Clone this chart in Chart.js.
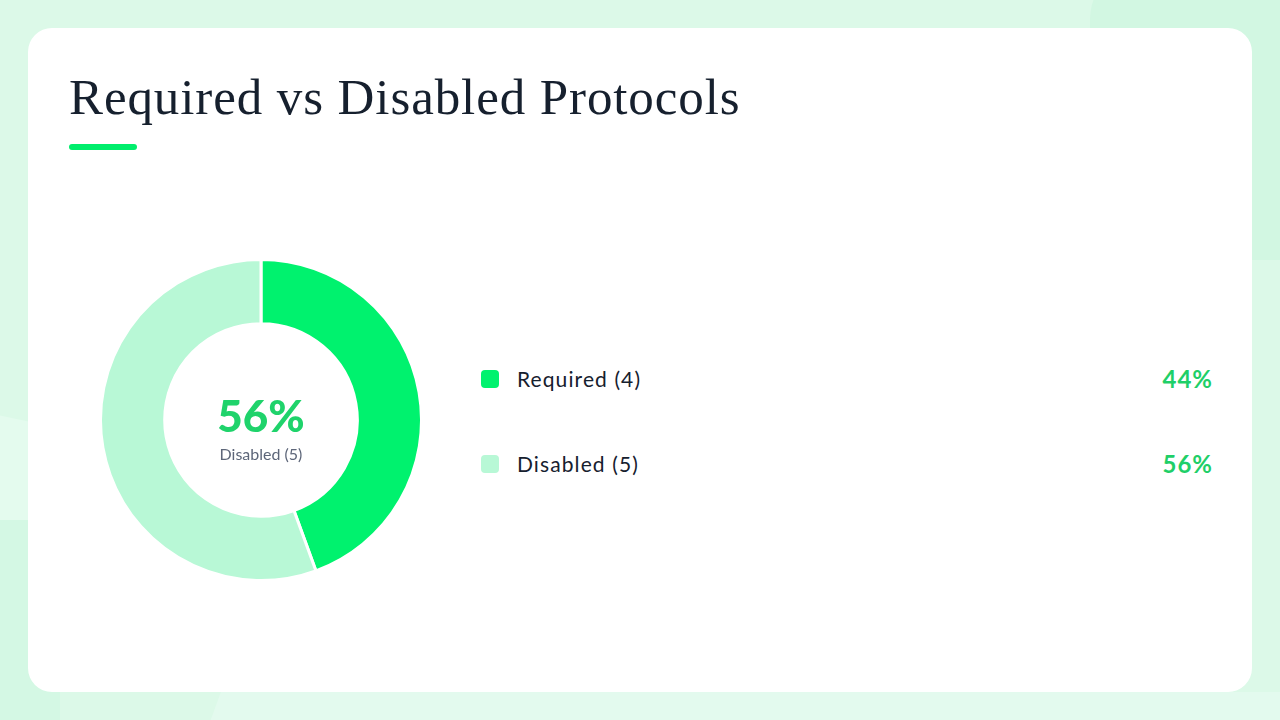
<!DOCTYPE html>
<html>
<head>
<meta charset="utf-8">
<script src="https://cdn.jsdelivr.net/npm/chart.js@4/dist/chart.umd.min.js"></script>
<style>
  html, body { margin: 0; padding: 0; }
  body {
    width: 1280px; height: 720px; overflow: hidden; position: relative;
    background: #dcf9e8;
    font-family: "Lato", "Noto Sans", sans-serif;
  }
  .bg1 { position: absolute; left: 1090px; top: -40px; width: 400px; height: 300px; background: #d2f7e2; border-radius: 60px 0 0 0; }
  .bg2 { position: absolute; left: -60px; top: 420px; width: 120px; height: 400px; background: #e4fbee; transform: rotate(12deg); }
  .bg3 { position: absolute; left: 0; top: 520px; width: 60px; height: 200px; background: #d4f8e4; }
  .bg4 { position: absolute; left: 210px; top: 692px; width: 1100px; height: 60px; background: #e3faee; transform: skewX(-20deg); }
  .card {
    position: absolute; left: 28px; top: 28px; width: 1224px; height: 664px;
    background: #ffffff; border-radius: 24px;
  }
  .title {
    position: absolute; left: 69px; top: 67px; margin: 0;
    font-family: "Liberation Serif", "DejaVu Serif", serif;
    font-weight: normal; font-size: 51px; letter-spacing: 0.9px; color: #16202e; white-space: nowrap;
    line-height: 1.2;
  }
  .accent {
    position: absolute; left: 69px; top: 144px; width: 68px; height: 6px;
    background: #00ee6c; border-radius: 3px;
  }
  .chartbox { position: absolute; left: 99px; top: 258px; width: 324px; height: 324px; }
  .center {
    position: absolute; left: 161px; top: 391px; width: 200px; text-align: center;
    pointer-events: none;
  }
  .center .pct { font-size: 44px; font-weight: 900; color: #1fd36b; line-height: 48px; }
  .center .lbl { font-size: 16px; line-height: 19px; color: #5d6679; margin-top: 5px; }
  .legend { position: absolute; left: 481px; top: 364px; width: 732px; }
  .row { position: relative; height: 30px; margin-bottom: 55px; }
  .sw { position: absolute; left: 0; top: 6px; width: 18px; height: 18px; border-radius: 4px; }
  .name { position: absolute; left: 36px; top: 2px; font-size: 21px; letter-spacing: 1.1px; color: #16202e; }
  .val { position: absolute; right: 0; top: 0px; font-size: 24px; letter-spacing: 1px; font-weight: bold; color: #1fcf68; }
</style>
</head>
<body>
<div class="bg1"></div>
<div class="bg2"></div>
<div class="bg3"></div>
<div class="bg4"></div>
<div class="card"></div>
<h1 class="title">Required vs Disabled Protocols</h1>
<div class="accent"></div>
<div class="chartbox"><canvas id="c"></canvas></div>
<div class="center"><div class="pct" id="cpct"></div><div class="lbl" id="clbl"></div></div>
<div class="legend" id="legend"></div>
<script>
const categories = ["Required", "Disabled"];
const values = [4, 5];
const colors = ["#00f26e", "#b8f8d6"];

const total = values.reduce((a, b) => a + b, 0);
const pct = values.map(v => Math.round(v / total * 100));
const labels = categories.map((c, i) => c + " (" + values[i] + ")");

new Chart(document.getElementById("c"), {
  type: "doughnut",
  data: {
    labels: labels,
    datasets: [{
      data: values,
      backgroundColor: colors,
      borderColor: "#ffffff",
      borderWidth: 3,
      hoverOffset: 0
    }]
  },
  options: {
    responsive: true,
    maintainAspectRatio: false,
    animation: false,
    cutout: "60%",
    layout: { padding: 0 },
    plugins: { legend: { display: false }, tooltip: { enabled: false } }
  }
});

// center: largest slice
let maxI = 0;
values.forEach((v, i) => { if (v > values[maxI]) maxI = i; });
document.getElementById("cpct").textContent = pct[maxI] + "%";
document.getElementById("clbl").textContent = labels[maxI];

const lg = document.getElementById("legend");
categories.forEach((c, i) => {
  const r = document.createElement("div");
  r.className = "row";
  r.innerHTML = '<div class="sw" style="background:' + colors[i] + '"></div>' +
    '<div class="name">' + labels[i] + '</div>' +
    '<div class="val">' + pct[i] + '%</div>';
  lg.appendChild(r);
});
</script>
</body>
</html>
